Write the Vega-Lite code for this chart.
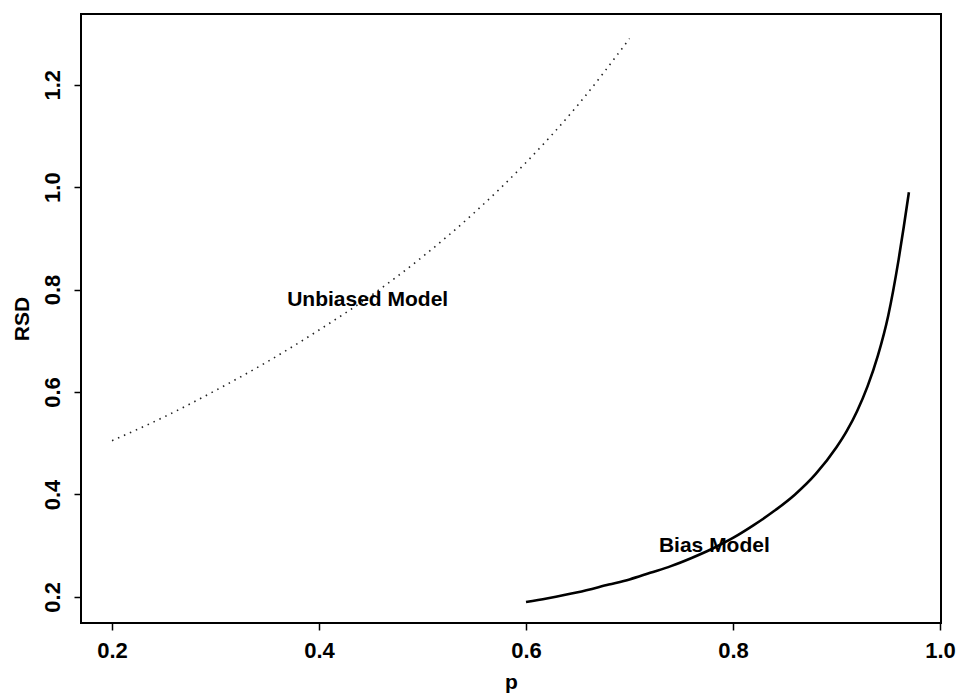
{
  "$schema": "https://vega.github.io/schema/vega-lite/v6.json",
  "width": 860,
  "height": 609,
  "autosize": "none",
  "padding": {"left": 81, "top": 14, "right": 20, "bottom": 74},
  "background": "white",
  "config": {
    "view": {"stroke": "black", "strokeWidth": 2},
    "font": "Liberation Sans",
    "axis": {
      "domain": false,
      "grid": false,
      "ticks": true,
      "tickColor": "black",
      "tickWidth": 1.5,
      "tickSize": 7,
      "labelFont": "Liberation Sans",
      "labelFontWeight": "bold",
      "labelFontSize": 22,
      "labelColor": "black",
      "labelPadding": 10,
      "titleFont": "Liberation Sans",
      "titleFontWeight": "bold",
      "titleFontSize": 21,
      "titleColor": "black"
    }
  },
  "datasets": {
    "unbiased": [
      {"p": 0.20, "rsd": 0.505},
      {"p": 0.25, "rsd": 0.551},
      {"p": 0.30, "rsd": 0.603},
      {"p": 0.35, "rsd": 0.659},
      {"p": 0.40, "rsd": 0.721},
      {"p": 0.45, "rsd": 0.788},
      {"p": 0.50, "rsd": 0.864},
      {"p": 0.55, "rsd": 0.950},
      {"p": 0.60, "rsd": 1.048},
      {"p": 0.65, "rsd": 1.160},
      {"p": 0.70, "rsd": 1.290}
    ],
    "bias": [
      {"p": 0.60, "rsd": 0.190},
      {"p": 0.62, "rsd": 0.197},
      {"p": 0.65, "rsd": 0.209},
      {"p": 0.68, "rsd": 0.224},
      {"p": 0.70, "rsd": 0.234},
      {"p": 0.72, "rsd": 0.247},
      {"p": 0.74, "rsd": 0.260},
      {"p": 0.76, "rsd": 0.276},
      {"p": 0.78, "rsd": 0.294},
      {"p": 0.80, "rsd": 0.315},
      {"p": 0.82, "rsd": 0.340},
      {"p": 0.84, "rsd": 0.368},
      {"p": 0.86, "rsd": 0.400},
      {"p": 0.88, "rsd": 0.440},
      {"p": 0.90, "rsd": 0.492},
      {"p": 0.91, "rsd": 0.524},
      {"p": 0.92, "rsd": 0.563},
      {"p": 0.93, "rsd": 0.611},
      {"p": 0.94, "rsd": 0.671},
      {"p": 0.95, "rsd": 0.749},
      {"p": 0.96, "rsd": 0.858},
      {"p": 0.965, "rsd": 0.922},
      {"p": 0.97, "rsd": 0.990}
    ],
    "labels": [
      {"p": 0.447, "rsd": 0.78, "label": "Unbiased Model"},
      {"p": 0.782, "rsd": 0.30, "label": "Bias Model"}
    ]
  },
  "encoding": {
    "x": {
      "field": "p",
      "type": "quantitative",
      "title": "p",
      "scale": {"domain": [0.170, 1.001], "nice": false, "zero": false},
      "axis": {"values": [0.2, 0.4, 0.6, 0.8, 1.0], "format": ".1f", "titlePadding": 10}
    },
    "y": {
      "field": "rsd",
      "type": "quantitative",
      "title": "RSD",
      "scale": {"domain": [0.149, 1.338], "nice": false, "zero": false},
      "axis": {
        "values": [0.2, 0.4, 0.6, 0.8, 1.0, 1.2],
        "format": ".1f",
        "labelAngle": 270,
        "labelAlign": "center",
        "labelBaseline": "bottom",
        "titlePadding": 9
      }
    }
  },
  "layer": [
    {
      "data": {"name": "unbiased"},
      "mark": {"type": "line", "color": "#222", "strokeWidth": 1.6, "strokeDash": [1.5, 5], "interpolate": "monotone"}
    },
    {
      "data": {"name": "bias"},
      "mark": {"type": "line", "color": "black", "strokeWidth": 2.6, "interpolate": "monotone"}
    },
    {
      "data": {"name": "labels"},
      "mark": {"type": "text", "font": "Liberation Sans", "fontWeight": "bold", "fontSize": 21, "color": "black", "align": "center", "baseline": "middle"},
      "encoding": {"text": {"field": "label"}}
    }
  ]
}
